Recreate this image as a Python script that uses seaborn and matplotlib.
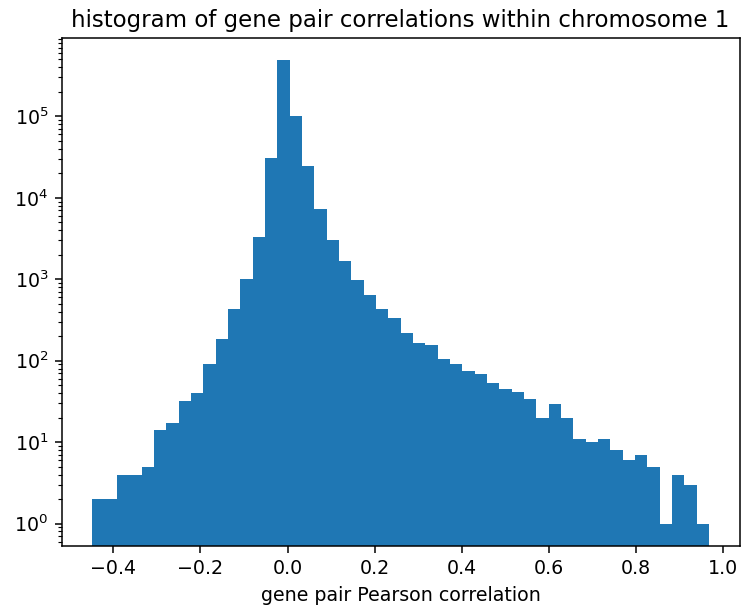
import numpy as np
import pandas as pd
import matplotlib
matplotlib.use("Agg")
import matplotlib.pyplot as plt
import seaborn as sns

# Histogram data (50 equal bins)
bin_lo = -0.448
bin_hi = 0.968
counts = [2, 2, 4, 4, 5, 14, 17, 32, 40, 92,
          185, 437, 1000, 3300, 30800, 486000, 102000, 24400, 7290, 3070,
          1660, 973, 646, 425, 335, 219, 163, 154, 104, 92,
          74, 68, 53, 45, 41, 34, 20, 29, 20, 11,
          10, 11, 8, 6, 7, 5, 1, 4, 3, 1]
title = "histogram of gene pair correlations within chromosome 1"
xlabel = "gene pair Pearson correlation"

edges = np.linspace(bin_lo, bin_hi, len(counts) + 1)
centers = (edges[:-1] + edges[1:]) / 2
df = pd.DataFrame({"r": centers, "n": counts})

DPI = 137
fig = plt.figure(figsize=(742 / DPI, 607 / DPI), dpi=DPI)
ax = fig.add_axes([0.083, 0.1005, 0.914, 0.8365])
sns.histplot(data=df, x="r", weights="n", bins=edges.tolist(), ax=ax,
             color="#1f77b4", alpha=1, linewidth=0, element="bars")
ax.set_yscale("log")
ax.set_ylim(0.53, 9.1e5)
ax.set_xlim(-0.519, 1.039)
ax.set_xlabel(xlabel)
ax.set_ylabel("")
ax.set_title(title, fontsize=12)
fig.savefig("out.png", dpi=DPI)
